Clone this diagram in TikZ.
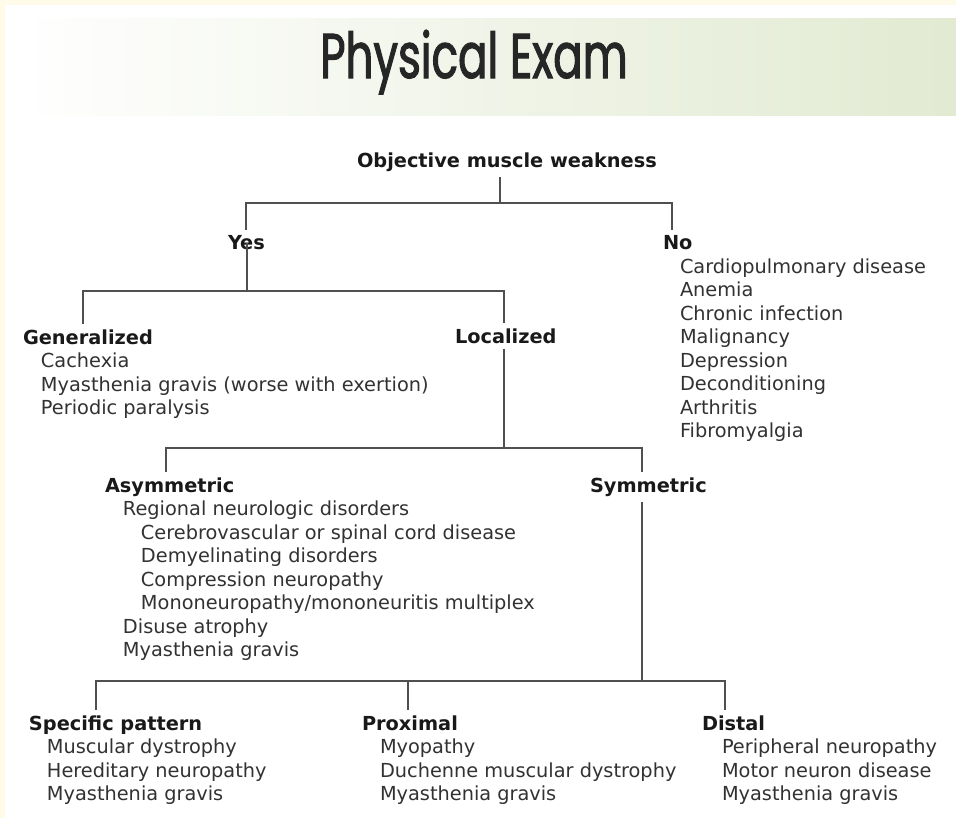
\documentclass[tikz,border=0pt]{standalone}
\usepackage{fontspec}
\setmainfont{DejaVu Sans}
\newfontfamily\titlefont[FakeStretch=0.69, FakeBold=1.6]{Poppins}
\usepackage{xcolor}
\usepackage{tikz}
\definecolor{cream}{RGB}{255,251,232}
\definecolor{bandgreen}{RGB}{226,234,210}
\definecolor{linegray}{RGB}{80,80,80}
\definecolor{itemgray}{RGB}{50,50,50}
\newcommand{\hd}[1]{{\bfseries\color{black!90}#1}}
\newcommand{\ind}{\hspace*{0.36cm}}

\begin{document}
\begin{tikzpicture}[x=0.02cm, y=-0.02cm, every node/.style={inner sep=0pt, outer xsep=0pt, outer ysep=0.11cm, anchor=north west, align=left, font=\fontsize{11pt}{13.4pt}\selectfont, text=itemgray}, link/.style={draw=linegray, line width=1.2pt}]
  \useasboundingbox (0,0) rectangle (956,818);
  \fill[cream] (0,0) rectangle (956,818);
  \fill[white] (5,5) rectangle (956,818);
  \shade[left color=white, right color=bandgreen] (12,18) rectangle (956,115);
  \node[anchor=base, text=black!85, font=\titlefont\fontsize{36pt}{40pt}\selectfont] (title) at (474,78) {Physical Exam};

  \node (obj) at (357,147) {\hd{Objective muscle weakness}};
  \node (yes) at (228,230) {\hd{Yes}};
  \node (no) at (663,230) {\hd{No}\\
    \hspace*{0.34cm}Cardiopulmonary disease\\ \hspace*{0.34cm}Anemia\\ \hspace*{0.34cm}Chronic infection\\ \hspace*{0.34cm}Malignancy\\
    \hspace*{0.34cm}Depression\\ \hspace*{0.34cm}Deconditioning\\ \hspace*{0.34cm}Arthritis\\ \hspace*{0.34cm}Fibromyalgia};
  \node (gen) at (23,324) {\hd{Generalized}\\
    \ind Cachexia\\ \ind Myasthenia gravis (worse with exertion)\\ \ind Periodic paralysis};
  \node (loc) at (455,323) {\hd{Localized}};
  \node (asym) at (105,472) {\hd{Asymmetric}\\
    \ind Regional neurologic disorders\\
    \ind\ind Cerebrovascular or spinal cord disease\\ \ind\ind Demyelinating disorders\\
    \ind\ind Compression neuropathy\\ \ind\ind Mononeuropathy/mononeuritis multiplex\\
    \ind Disuse atrophy\\ \ind Myasthenia gravis};
  \node (sym) at (590,472) {\hd{Symmetric}};
  \node (spec) at (29,710) {\hd{Specific pattern}\\
    \ind Muscular dystrophy\\ \ind Hereditary neuropathy\\ \ind Myasthenia gravis};
  \node (prox) at (362,710) {\hd{Proximal}\\
    \ind Myopathy\\ \ind Duchenne muscular dystrophy\\ \ind Myasthenia gravis};
  \node (dist) at (702,710) {\hd{Distal}\\
    \hspace*{0.4cm}Peripheral neuropathy\\ \hspace*{0.4cm}Motor neuron disease\\ \hspace*{0.4cm}Myasthenia gravis};

  \coordinate (ja) at (500,203);
  \coordinate (jb) at (247,291);
  \coordinate (jc) at (504,448);
  \coordinate (jd) at (642,681);
  \draw[link] (ja |- obj.south) -- (ja);
  \draw[link] (yes.north) |- (ja) -| ([xshift=0.18cm]no.north west);
  \draw[link] (jb |- yes.center) -- (jb);
  \draw[link] ([xshift=1.2cm]gen.north west) |- (jb) -| ([xshift=0.98cm]loc.north west);
  \draw[link] (jc |- loc.south) -- (jc);
  \draw[link] ([xshift=1.22cm]asym.north west) |- (jc) -| ([xshift=1.04cm]sym.north west);
  \draw[link] (jd |- sym.south) -- (jd);
  \draw[link] ([xshift=1.34cm]spec.north west) |- (jd) -| ([xshift=0.46cm]dist.north west);
  \draw[link] ([xshift=0.92cm]prox.north west) |- (jd);
\end{tikzpicture}
\end{document}
